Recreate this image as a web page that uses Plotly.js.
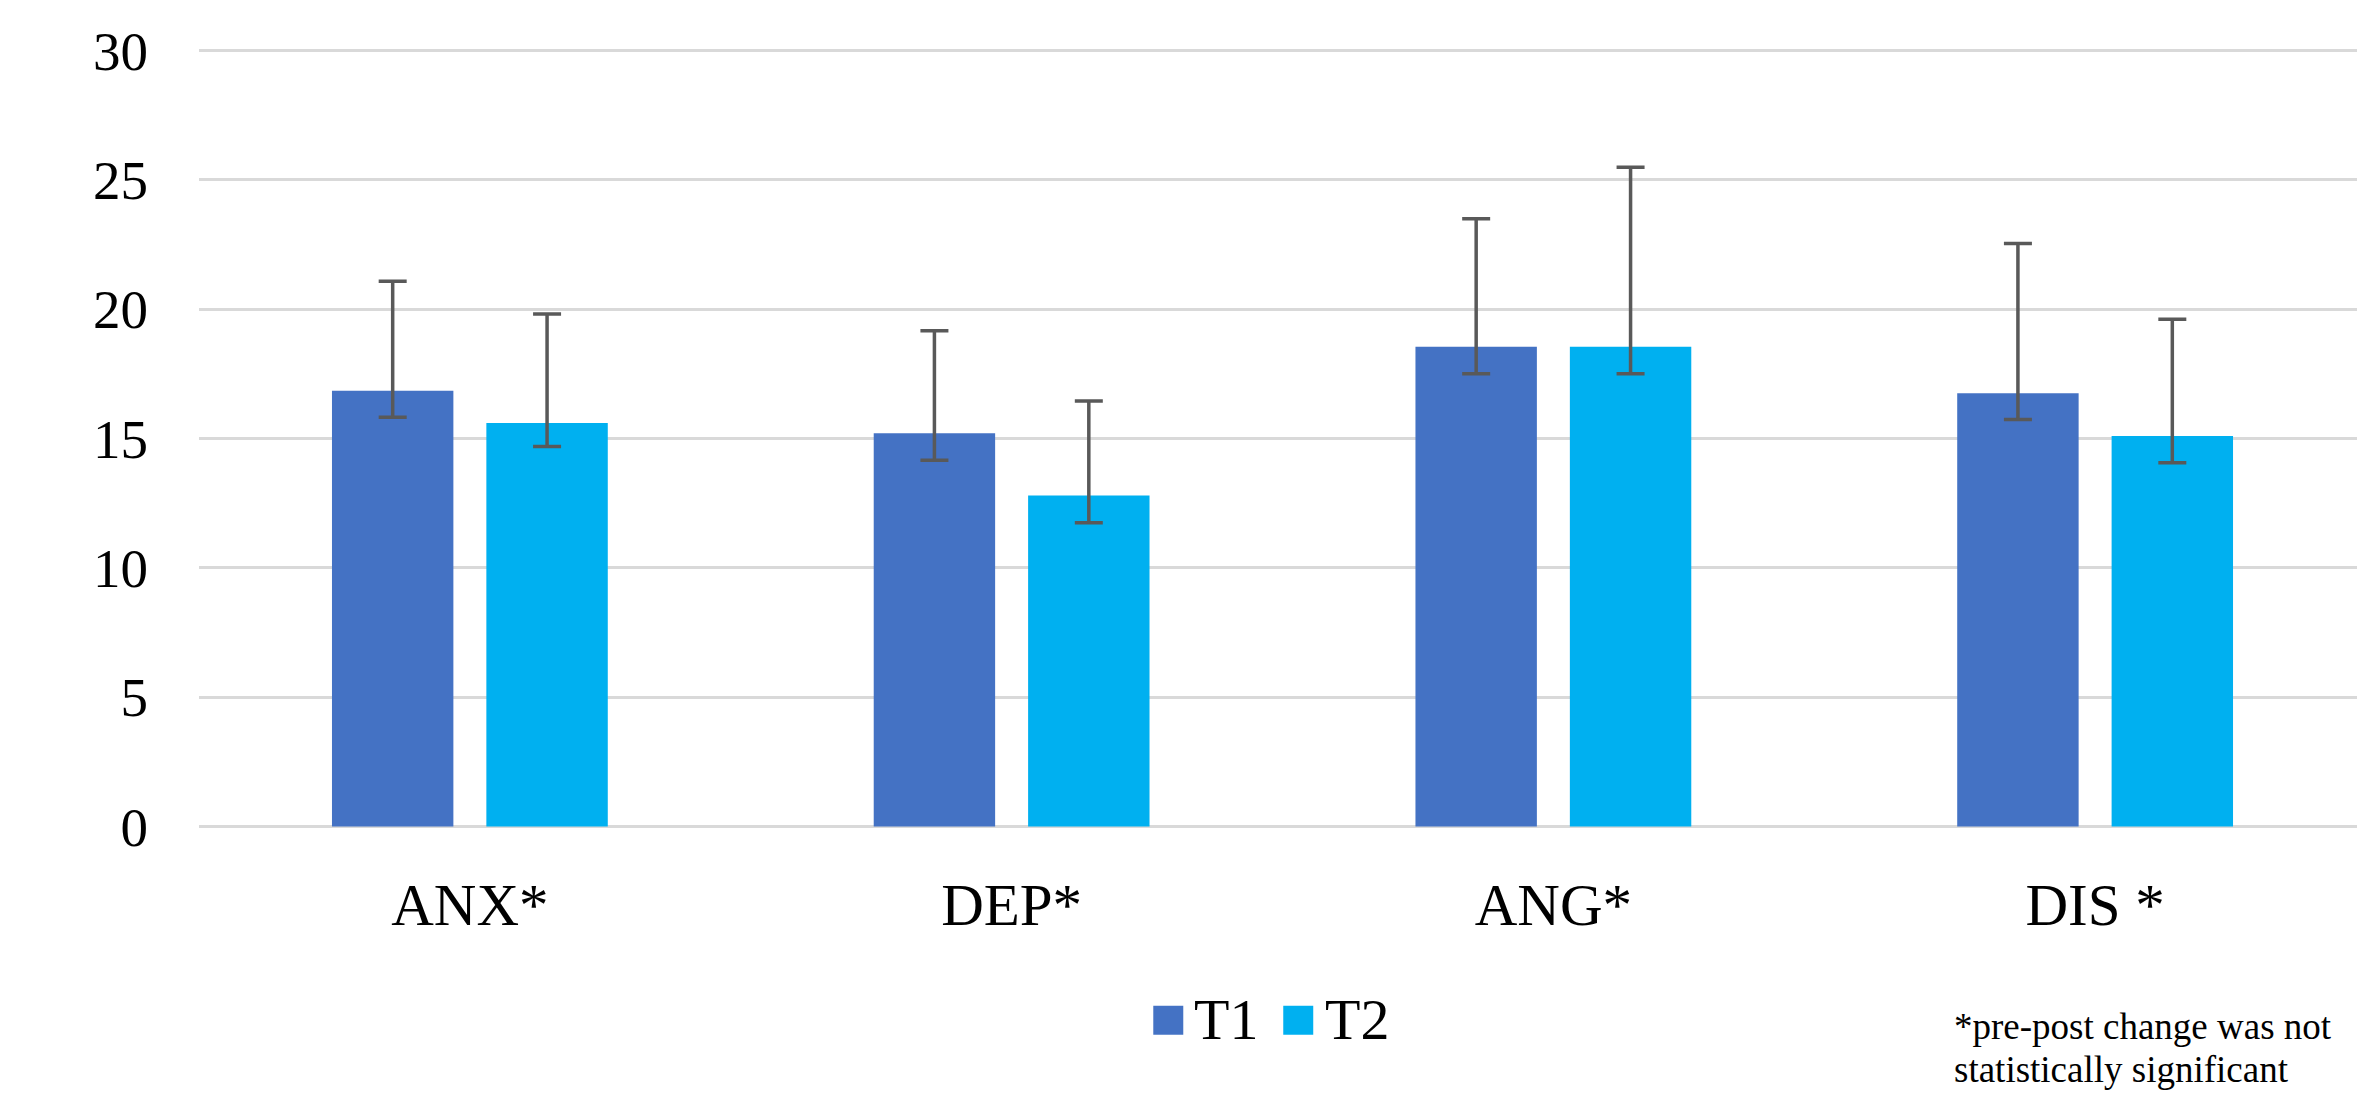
<!DOCTYPE html>
<html>
<head>
<meta charset="utf-8">
<script src="https://cdn.plot.ly/plotly-3.0.1.min.js"></script>
<style>
  html, body { margin: 0; padding: 0; background: #ffffff; }
  #chart { width: 2357px; height: 1098px; }
</style>
</head>
<body>
<div id="chart"></div>
<script>
// ---- data ----
var categories = ['ANX*', 'DEP*', 'ANG*', 'DIS *'];
var t1Values = [16.85, 15.2, 18.55, 16.75];
var t2Values = [15.6, 12.8, 18.55, 15.1];
var t1ErrPlus = [4.23, 3.97, 4.95, 5.79];
var t1ErrMinus = [1.03, 1.04, 1.05, 1.02];
var t2ErrPlus = [4.21, 3.65, 6.94, 4.51];
var t2ErrMinus = [0.91, 1.06, 1.05, 1.04];
var yTickVals = [0, 5, 10, 15, 20, 25, 30];
var seriesNames = ['T1', 'T2'];
var footnoteLines = ['*pre-post change was not', 'statistically significant'];

// ---- layout geometry (pixels) ----
var W = 2357, H = 1098;
var L = 198.5, R = 0;
var T = 48.0, B = 268.8;
var plotW = W - L - R, plotH = H - T - B;
function px2x(px) { return (px - L) / plotW; }
function py2y(py) { return (T + plotH - py) / plotH; }

var serif = '"Liberation Serif", "Times New Roman", Times, serif';
var colors = ['#4472C4', '#00B0F0'];

var errStyle = { type: 'data', symmetric: false, color: '#595959', thickness: 3.5, width: 14 };

var traces = [
  {
    type: 'bar', name: seriesNames[0], x: categories, y: t1Values,
    marker: { color: colors[0], line: { width: 0 } },
    error_y: Object.assign({}, errStyle, { array: t1ErrPlus, arrayminus: t1ErrMinus }),
    showlegend: false, hoverinfo: 'x+y+name'
  },
  {
    type: 'bar', name: seriesNames[1], x: categories, y: t2Values,
    marker: { color: colors[1], line: { width: 0 } },
    error_y: Object.assign({}, errStyle, { array: t2ErrPlus, arrayminus: t2ErrMinus }),
    showlegend: false, hoverinfo: 'x+y+name'
  }
];

// legend (swatches + labels) and footnote
var shapes = [];
var annotations = [];
var swatchX = [1153, 1283];
var labelX = [1192, 1323];
for (var i = 0; i < seriesNames.length; i++) {
  shapes.push({
    type: 'rect', xref: 'paper', yref: 'paper',
    x0: px2x(swatchX[i]), x1: px2x(swatchX[i] + 30),
    y0: py2y(1035), y1: py2y(1006),
    fillcolor: colors[i], line: { width: 0 }
  });
  annotations.push({
    xref: 'paper', yref: 'paper', x: px2x(labelX[i]), y: py2y(1020),
    xanchor: 'left', yanchor: 'middle', showarrow: false,
    text: seriesNames[i], font: { family: serif, size: 58, color: '#000000' }
  });
}
var footMid = [1027, 1070];
for (var j = 0; j < footnoteLines.length; j++) {
  annotations.push({
    xref: 'paper', yref: 'paper', x: px2x(1953), y: py2y(footMid[j]),
    xanchor: 'left', yanchor: 'middle', showarrow: false, borderpad: 0,
    text: footnoteLines[j], font: { family: serif, size: 37, color: '#000000' }
  });
}

var layout = {
  width: W, height: H,
  margin: { l: L, r: R, t: T, b: B, pad: 0 },
  paper_bgcolor: '#ffffff', plot_bgcolor: '#ffffff',
  barmode: 'group', bargap: 0.43, bargroupgap: 0.2136,
  showlegend: false,
  font: { family: serif, color: '#000000' },
  xaxis: {
    type: 'category',
    range: [-0.5, 3.5 - 9 / 541.9],
    showgrid: false, zeroline: false, showline: false,
    ticks: '', ticklabelstandoff: 36,
    tickfont: { family: serif, size: 59, color: '#000000' }
  },
  yaxis: {
    range: [-0.1, 30.1],
    tickmode: 'array', tickvals: yTickVals,
    showgrid: true, gridcolor: '#D9D9D9', gridwidth: 3,
    zeroline: true, zerolinecolor: '#D9D9D9', zerolinewidth: 3,
    showline: false, ticks: '', ticklabelstandoff: 50,
    tickfont: { family: serif, size: 55, color: '#000000' }
  },
  shapes: shapes,
  annotations: annotations
};

Plotly.newPlot('chart', traces, layout, { displayModeBar: false, staticPlot: true });
</script>
</body>
</html>
